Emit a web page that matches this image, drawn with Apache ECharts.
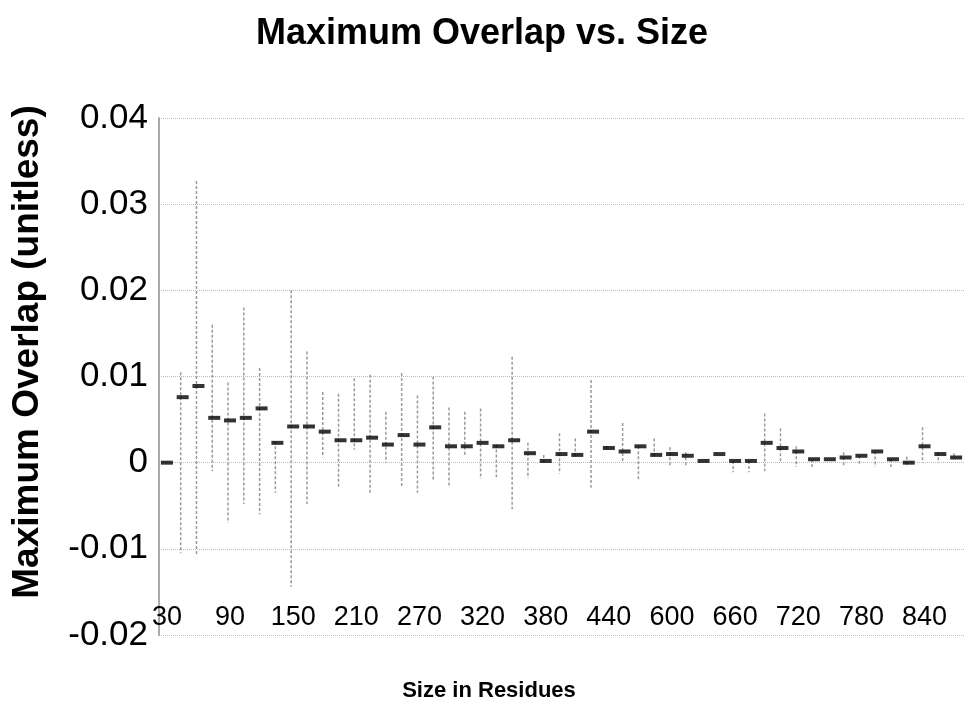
<!DOCTYPE html>
<html>
<head>
<meta charset="utf-8">
<script src="https://cdn.jsdelivr.net/npm/echarts@6/dist/echarts.min.js"></script>
<style>
  html, body { margin: 0; padding: 0; background: #fff; }
  #chart { width: 964px; height: 702px; }
</style>
</head>
<body>
<div id="chart"></div>
<script>
// sizes (residues) - only every 4th one is labelled on the axis
const sizes = [30, 45, 60, 75, 90, 105, 120, 135, 150, 165, 180, 195, 210, 225, 240, 255,
  270, 280, 290, 300, 320, 335, 350, 365, 380, 395, 410, 425, 440, 480, 520, 560,
  600, 615, 630, 645, 660, 675, 690, 705, 720, 735, 750, 765, 780, 795, 810, 825, 840, 855, 870]

// mean maximum overlap (the black dashes)
const meanOverlap = [0.0000, 0.0076, 0.0089, 0.0052, 0.0049, 0.0052, 0.0063, 0.0023, 0.0042, 0.0042,
  0.0036, 0.0026, 0.0026, 0.0029, 0.0021, 0.0032, 0.0021, 0.0041, 0.0019, 0.0019,
  0.0023, 0.0019, 0.0026, 0.0011, 0.0002, 0.0010, 0.0009, 0.0036, 0.0017, 0.0013,
  0.0019, 0.0009, 0.0010, 0.0008, 0.0002, 0.0010, 0.0002, 0.0002, 0.0023, 0.0017,
  0.0013, 0.0004, 0.0004, 0.0006, 0.0008, 0.0013, 0.0004, 0.0000, 0.0019, 0.0010, 0.0006]

// top / bottom of the grey range lines
const highOverlap = [0.0000, 0.0105, 0.0327, 0.0160, 0.0093, 0.0180, 0.0110, 0.0025, 0.0200, 0.0129,
  0.0082, 0.0080, 0.0098, 0.0102, 0.0059, 0.0104, 0.0078, 0.0100, 0.0064, 0.0059,
  0.0063, 0.0021, 0.0123, 0.0023, 0.0009, 0.0034, 0.0028, 0.0096, 0.0019, 0.0046,
  0.0019, 0.0028, 0.0018, 0.0012, 0.0002, 0.0010, 0.0002, 0.0002, 0.0057, 0.0040,
  0.0019, 0.0004, 0.0004, 0.0012, 0.0008, 0.0013, 0.0004, 0.0007, 0.0041, 0.0012, 0.0011]
const lowOverlap = [0.0000, -0.0105, -0.0107, -0.0010, -0.0070, -0.0048, -0.0060, -0.0035, -0.0144, -0.0048,
  0.0006, -0.0030, 0.0015, -0.0035, 0.0000, -0.0029, -0.0035, -0.0021, -0.0029, 0.0008,
  -0.0019, -0.0017, -0.0054, -0.0018, -0.0002, -0.0013, 0.0005, -0.0029, 0.0015, 0.0000,
  -0.0021, 0.0007, -0.0004, -0.0005, 0.0002, 0.0010, -0.0011, -0.0011, -0.0010, 0.0000,
  -0.0005, -0.0005, 0.0004, -0.0005, -0.0003, -0.0005, -0.0005, -0.0004, 0.0000, 0.0000, 0.0004]

const yTicks = { min: -0.02, max: 0.04, step: 0.01 }

const font = 'Arial, "Liberation Sans", Helvetica, sans-serif'

let myChart = echarts.init(document.getElementById('chart'))

let rangeData = sizes.map((s, i) => [i, highOverlap[i], lowOverlap[i]])
let meanData = sizes.map((s, i) => [i, meanOverlap[i]])

myChart.setOption({
  animation: false,
  textStyle: { fontFamily: font },
  title: {
    text: 'Maximum Overlap vs. Size',
    left: 'center',
    top: 11,
    padding: [5, 0, 5, 22], // nudges the text a little right of centre
    textStyle: { fontSize: 36, fontWeight: 'bold', color: '#000', fontFamily: font }
  },
  // axis titles drawn as plain text so they can sit where the original has them
  graphic: [
    {
      type: 'text',
      x: 28,
      y: 352,
      rotation: Math.PI / 2,
      style: {
        text: 'Maximum Overlap (unitless)',
        font: 'bold 37px ' + font,
        fill: '#000',
        align: 'center',
        verticalAlign: 'middle'
      }
    },
    {
      type: 'text',
      x: 489,
      y: 691,
      style: {
        text: 'Size in Residues',
        font: 'bold 22px ' + font,
        fill: '#000',
        align: 'center',
        verticalAlign: 'middle'
      }
    }
  ],
  grid: { left: 159, top: 118, width: 810, height: 517 },
  xAxis: {
    type: 'category',
    data: sizes.map(String),
    boundaryGap: true,
    axisLine: { show: false },
    axisTick: { show: false },
    axisLabel: {
      interval: 3,
      margin: -31,
      fontSize: 27,
      color: '#000'
    },
    splitLine: { show: false }
  },
  yAxis: {
    type: 'value',
    min: yTicks.min,
    max: yTicks.max,
    interval: yTicks.step,
    axisLine: { show: true, lineStyle: { color: '#aaa', width: 2 } },
    axisTick: { show: false },
    axisLabel: {
      margin: 11,
      fontSize: 35,
      color: '#000',
      formatter: v => (Math.abs(v) < 1e-9 ? '0' : +v.toFixed(2) + '')
    },
    splitLine: { show: true, lineStyle: { color: '#bbb', type: 'dotted', width: 1 } }
  },
  series: [
    {
      // grey high-low lines
      type: 'custom',
      data: rangeData,
      z: 2,
      renderItem(params, api) {
        let top = api.coord([api.value(0), api.value(1)])
        let bottom = api.coord([api.value(0), api.value(2)])
        return {
          type: 'line',
          shape: { x1: top[0] - 2, y1: top[1], x2: bottom[0] - 2, y2: bottom[1] },
          style: { stroke: '#9a9a9a', lineWidth: 1.5, lineDash: [3, 2] }
        }
      }
    },
    {
      // mean dashes
      type: 'scatter',
      data: meanData,
      z: 3,
      symbol: 'rect',
      symbolSize: [12, 4],
      itemStyle: { color: '#000' }
    }
  ]
})
</script>
</body>
</html>
